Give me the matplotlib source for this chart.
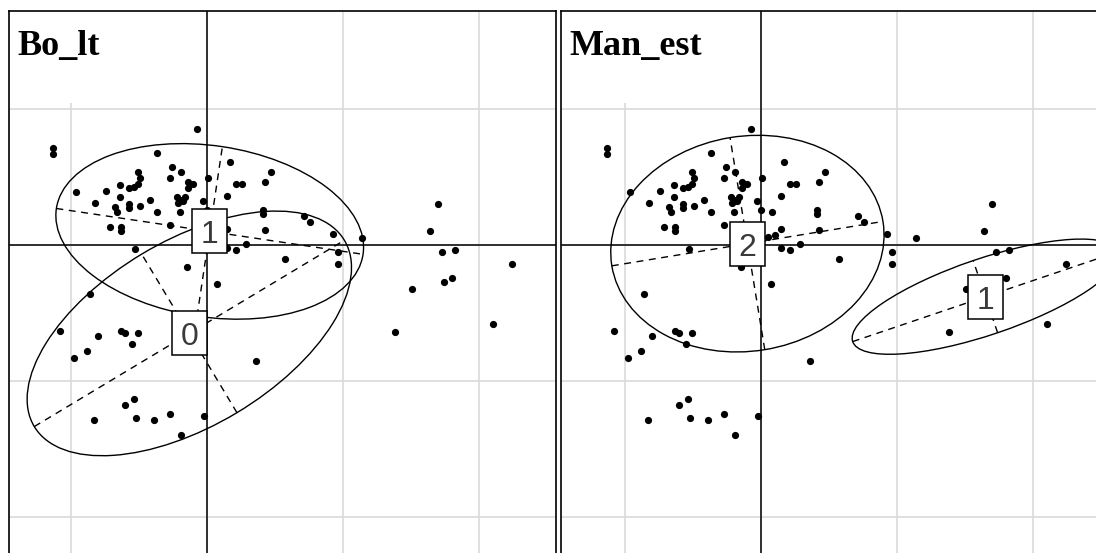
import matplotlib
matplotlib.use("Agg")
import numpy as np
import matplotlib.pyplot as plt
from matplotlib.patches import Ellipse, Rectangle

# ----- DATA (axis units, grid step d = 1) -----
x_pts = [-0.07, -1.13, -1.13, -0.37, -0.26, -0.19, 0.17, 0.47, -0.51, -0.49,
         -0.64, -0.57, -0.54, -0.51, -0.74, -0.96, -0.27, -0.14, -0.10, 0.01,
         0.21, 0.26, 0.43, 0.15, -0.64, -0.42, -0.82, -0.57, -0.57, -0.49,
         -0.68, -0.66, -0.22, -0.20, -0.18, -0.21, -0.16, -0.03, 0.00, 0.08,
         -0.20, -0.37, 0.41, 0.41, -0.27, -0.71, -0.63, -0.63, 0.15, 0.43,
         0.05, 0.10, 0.71, 0.76, 0.93, 1.14, 0.15, 0.21, 0.29, -0.53,
         0.57, 0.96, 0.96, -0.14,
         1.70, 1.64, 1.73, 1.82, 2.24, 1.51, 1.74, 1.80, 2.10, 1.38,
         -0.15, 0.07, -0.86, -1.08, -0.80, -0.63, -0.60, -0.51, -0.55, -0.88,
         -0.98, 0.36, -0.54, -0.60, -0.27, -0.02, -0.83, -0.52, -0.39, -0.19]
y_pts = [0.85, 0.71, 0.67, 0.68, 0.57, 0.54, 0.61, 0.54, 0.54, 0.49,
         0.44, 0.42, 0.43, 0.45, 0.40, 0.39, 0.49, 0.46, 0.45, 0.49,
         0.45, 0.45, 0.46, 0.36, 0.35, 0.33, 0.31, 0.30, 0.27, 0.29,
         0.28, 0.24, 0.35, 0.33, 0.32, 0.31, 0.35, 0.32, 0.26, 0.24,
         0.24, 0.24, 0.26, 0.23, 0.15, 0.13, 0.13, 0.10, 0.12, 0.11,
         0.06, 0.07, 0.21, 0.17, 0.08, 0.05, -0.02, -0.04, 0.01, -0.03,
         -0.10, -0.05, -0.14, 0.42,
         0.30, 0.10, -0.05, -0.04, -0.14, -0.32, -0.27, -0.24, -0.58, -0.64,
         -0.16, -0.29, -0.36, -0.63, -0.67, -0.63, -0.65, -0.65, -0.73, -0.78,
         -0.83, -0.85, -1.13, -1.18, -1.24, -1.26, -1.29, -1.27, -1.29, -1.40]

panel_titles = ["Bo_lt", "Man_est"]
class_labels = [["1", "0"], ["2", "1"]]
class_cx = [[0.02, -0.13], [-0.10, 1.65]]
class_cy = [[0.10, -0.65], [0.01, -0.38]]
ell_a = [[1.14, 1.33], [1.01, 1.03]]
ell_b = [[0.63, 0.68], [0.79, 0.28]]
ell_ang = [[-8.5, 31.0], [9.3, 18.7]]

# ----- LAYOUT (pixels) -----
W, H = 1096, 553
S = 136.0                      # pixels per unit
panels_px = [  # left, right, top, bottom, origin x, origin y, title box width
    (9, 556, 11, 620, 207, 245, 112),
    (561, 1120, 11, 620, 761, 245, 168),
]

fig = plt.figure(figsize=(W / 100, H / 100), dpi=100)

for k, (l, r, t, b, ox, oy, bw) in enumerate(panels_px):
    ax = fig.add_axes([l / W, 1 - b / H, (r - l) / W, (b - t) / H])
    xmin, xmax = (l - ox) / S, (r - ox) / S
    ymin, ymax = (oy - b) / S, (oy - t) / S
    ax.set_xlim(xmin, xmax)
    ax.set_ylim(ymin, ymax)
    ax.set_xticks([])
    ax.set_yticks([])
    for sp in ax.spines.values():
        sp.set_linewidth(1.2)
        sp.set_color("black")

    # grid
    for gx in np.arange(np.ceil(xmin), np.floor(xmax) + 1):
        ax.axvline(gx, color="#dadada", lw=1.2, zorder=0)
    for gy in np.arange(np.ceil(ymin), np.floor(ymax) + 1):
        ax.axhline(gy, color="#dadada", lw=1.2, zorder=0)

    # white box behind the title
    ax.add_patch(Rectangle((0, 1 - 92 / (b - t)), bw / (r - l), 92 / (b - t),
                           transform=ax.transAxes, fc="white", ec="none", zorder=1))

    ax.axvline(0, color="black", lw=1.1, zorder=2)
    ax.axhline(0, color="black", lw=1.1, zorder=2)

    ax.plot(x_pts, y_pts, "o", color="black", ms=5.2, mew=0, zorder=3)

    for j, lab in enumerate(class_labels[k]):
        cx, cy = class_cx[k][j], class_cy[k][j]
        a, bb, ang = ell_a[k][j], ell_b[k][j], np.deg2rad(ell_ang[k][j])
        ax.add_patch(Ellipse((cx, cy), 2 * a, 2 * bb, angle=ell_ang[k][j],
                             fill=False, ec="black", lw=1.0, zorder=4))
        ax.plot([cx - a * np.cos(ang), cx + a * np.cos(ang)],
                [cy - a * np.sin(ang), cy + a * np.sin(ang)],
                color="black", lw=1.0, ls=(0, (5, 4)), zorder=4)
        ax.plot([cx + bb * np.sin(ang), cx - bb * np.sin(ang)],
                [cy - bb * np.cos(ang), cy + bb * np.cos(ang)],
                color="black", lw=1.0, ls=(0, (5, 4)), zorder=4)
        ax.add_patch(Rectangle((cx - 17.5 / S, cy - 22 / S), 35 / S, 44 / S,
                               fc="white", ec="black", lw=1.1, zorder=5))
        ax.annotate(lab, (cx, cy), xytext=(0, -12), textcoords="offset pixels",
                    ha="center", va="baseline", fontsize=23, color="#3a3a3a",
                    family=["Liberation Sans", "DejaVu Sans"], zorder=6)

    ax.annotate(panel_titles[k], (0, 1), xycoords="axes fraction",
                xytext=(8, -44), textcoords="offset pixels",
                ha="left", va="baseline", fontsize=26, fontweight="bold",
                family=["Liberation Serif", "DejaVu Serif"], zorder=6)

fig.savefig("out.png", dpi=100)
